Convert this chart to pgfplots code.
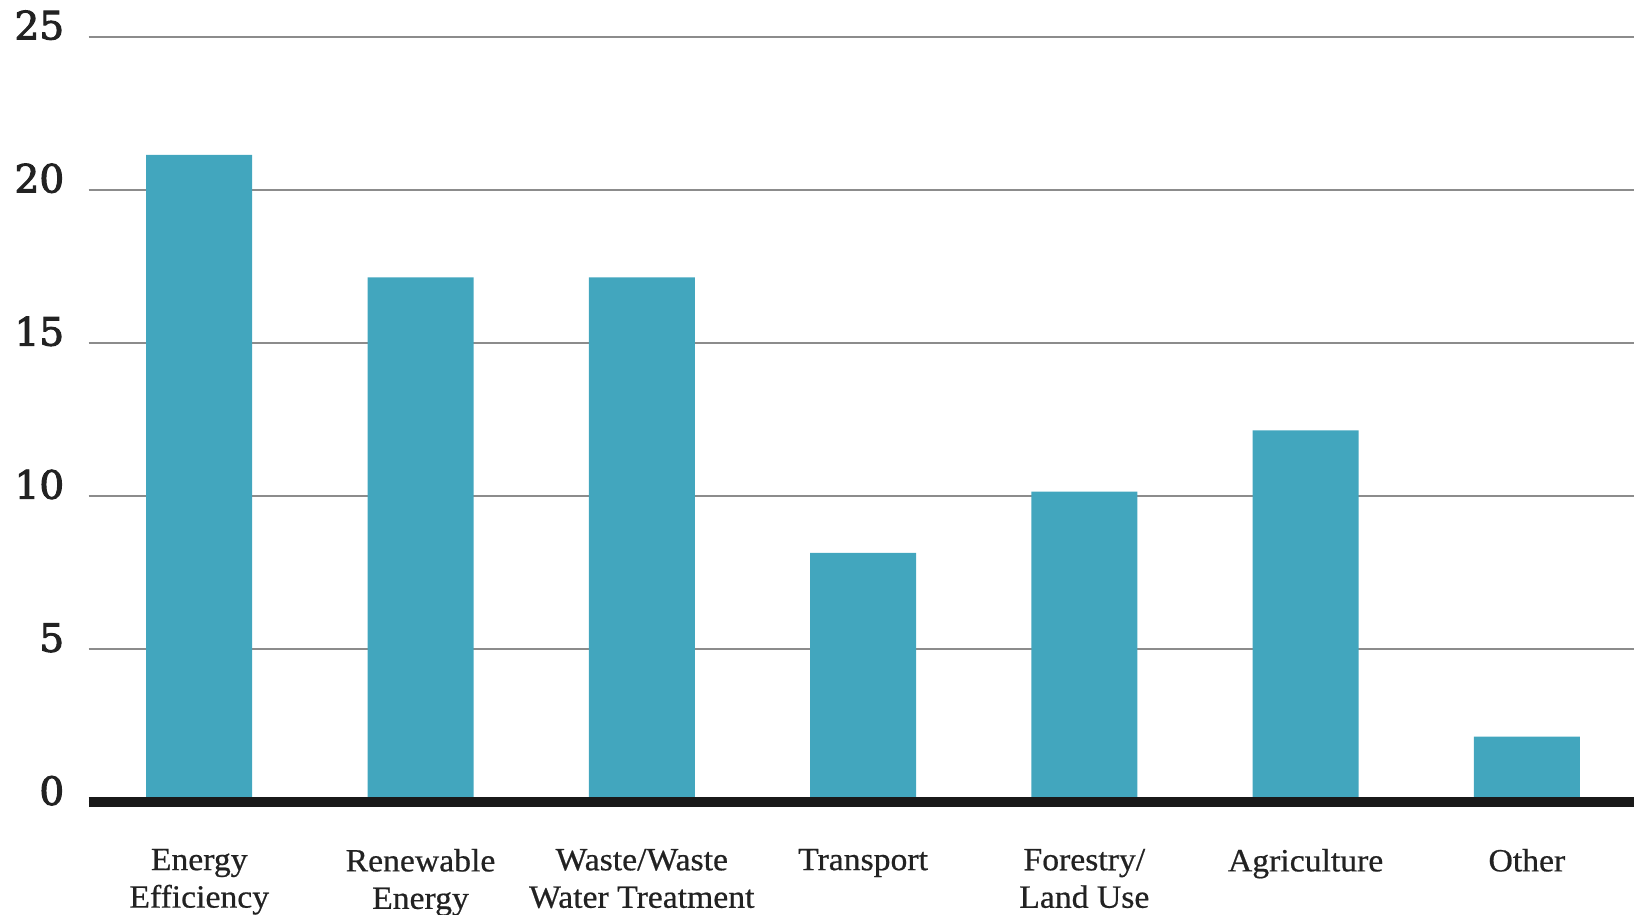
\documentclass[border=0pt]{standalone}
\usepackage{pgfplots}
\pgfplotsset{compat=1.18}
\usepackage{fontspec}
\setmainfont{Liberation Serif}[FakeStretch=1.04, FakeBold=0.6]
\newfontfamily\tickfont{DejaVu Serif}[FakeBold=2.5]
\definecolor{barcol}{HTML}{42A6BE}
\definecolor{gridcol}{HTML}{8C8C8C}
\definecolor{txt}{HTML}{222222}
\begin{document}
\begin{tikzpicture}
\begin{axis}[
  at={(0,0)}, anchor=south west,
  scale only axis,
  width=772.7pt, height=382.75pt,
  xmin=-0.5, xmax=6.484,
  ymin=0, ymax=25,
  ytick={0,5,10,15,20,25},
  xtick={0,1,2,3,4,5,6},
  xticklabels={Energy\\Efficiency, Renewable\\Energy, Waste/Waste\\Water Treatment, Transport, Forestry/\\Land Use, Agriculture, Other},
  major tick length=0pt,
  axis line style={draw=none},
  ymajorgrids,
  grid style={gridcol, line width=1pt},
  xticklabel style={align=center, font=\fontsize{16.2}{18.75}\selectfont, text=txt, anchor=north, inner sep=0pt, yshift=-23pt},
  yticklabel style={font=\tickfont\fontsize{19.5}{22}\selectfont, text=txt, anchor=base east, inner sep=0pt, xshift=-12pt, yshift=-1.2pt},
  /pgf/number format/assume math mode=true,
  clip=false,
]
\addplot[ybar, bar width=53pt, fill=barcol, draw=none] coordinates {
  (0,21.15) (1,17.15) (2,17.15) (3,8.15) (4,10.15) (5,12.15) (6,2.15)
};
\draw[line width=5pt, color=black!90] (axis cs:-0.5,0) -- (axis cs:6.484,0);
\end{axis}
\pgfresetboundingbox
\useasboundingbox (-44.3pt,-56.25pt) rectangle (772.7pt,401.25pt);
\end{tikzpicture}
\end{document}
